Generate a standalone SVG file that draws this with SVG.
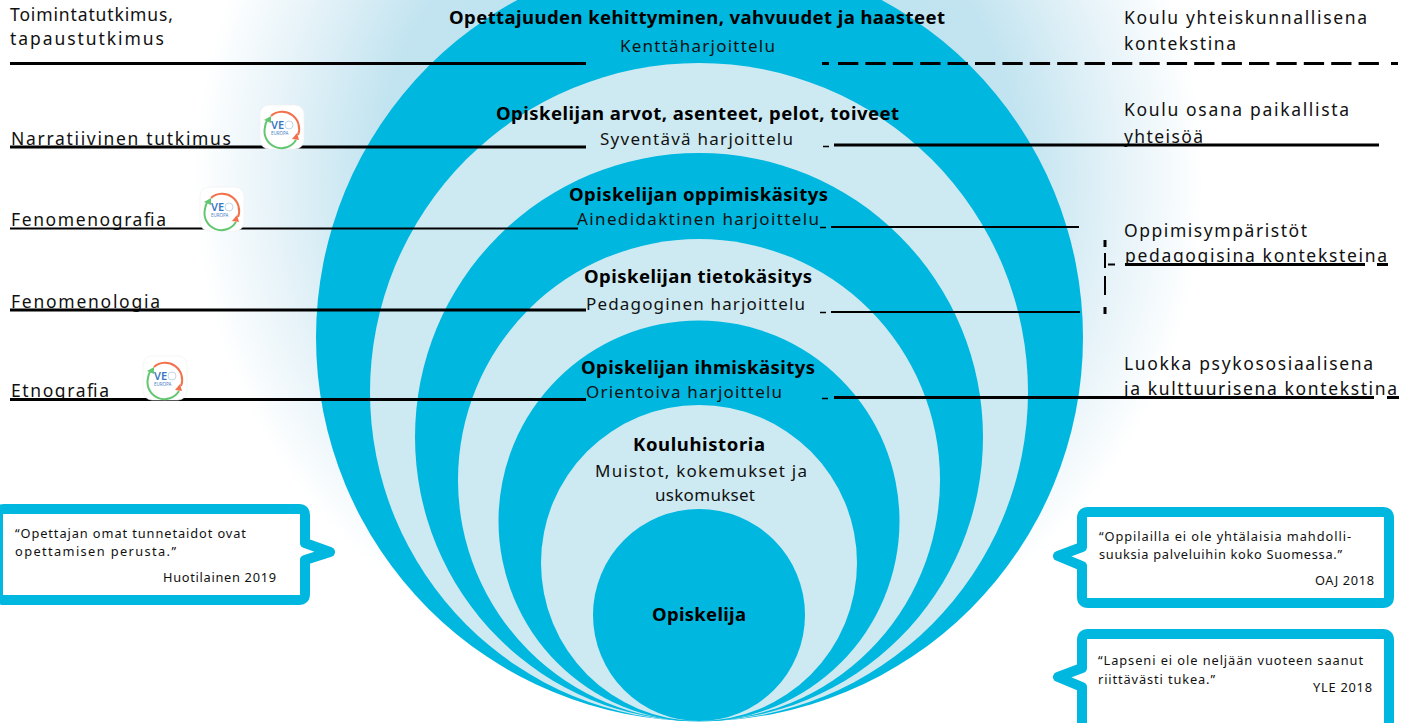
<svg xmlns="http://www.w3.org/2000/svg" width="1414" height="723" viewBox="0 0 1414 723">
<style>
text{font-family:"Noto Sans","Liberation Sans",sans-serif;fill:#111}
.b{font-weight:700;font-size:18.500px;fill:#000}
.m{font-size:17px}
.s{font-size:17.500px}
.q{font-size:12.800px}
.dk{fill:#00b7df}.lt{fill:#cdeaf2}
.call{fill:#fff;stroke:#00b7df;stroke-width:10;stroke-linejoin:round}
.l3{stroke:#000;stroke-width:3;fill:none}
.l2{stroke:#000;stroke-width:2;fill:none}
.l1{stroke:#000;stroke-width:1.500;fill:none}
</style>
<defs>
<radialGradient id="glow" gradientUnits="userSpaceOnUse" cx="699" cy="180" r="505">
<stop offset="0" stop-color="#b4e0ef"/><stop offset="0.64" stop-color="#c2e4f0"/><stop offset="0.8" stop-color="#e0f0f7"/><stop offset="1" stop-color="#fff"/>
</radialGradient>
<g id="veo">
<rect x="0" y="0" width="44" height="44" rx="9" fill="#fff" stroke="#f0f0f0" stroke-width="0.700"/>
<path d="M11 11A17 17 0 0 1 38 30" fill="none" stroke="#f2714b" stroke-width="2"/>
<path d="M36 35A17 17 0 0 1 5 22 17 17 0 0 1 8 14" fill="none" stroke="#62c770" stroke-width="2"/>
<path d="M4 15l7-4 0 7z" fill="#62c770"/><path d="M39 35l-7-1 5-6z" fill="#f2714b"/>
<text x="11" y="24" style="font-size:11px;fill:#3a78c2;font-weight:600">VE</text>
<circle cx="29" cy="20" r="4" fill="none" stroke="#c4d6ea" stroke-width="1"/>
<text x="11" y="30" style="font-size:4.500px;fill:#4a80c4">EUROPA</text>
</g>
</defs>
<rect id="halo" width="1414" height="723" fill="url(#glow)"/>
<g id="ring-1"><circle class="dk" cx="699.500" cy="337.500" r="383.500"/></g>
<g id="ring-2"><circle class="lt" cx="699" cy="392" r="329"/></g>
<g id="ring-3"><circle class="dk" cx="699" cy="437" r="284"/></g>
<g id="ring-4"><circle class="lt" cx="699" cy="480" r="241"/></g>
<g id="ring-5"><circle class="dk" cx="699" cy="521" r="200.500"/></g>
<g id="ring-6"><circle class="lt" cx="699" cy="563" r="158"/></g>
<g id="ring-7"><circle class="dk" cx="699" cy="615" r="106"/></g>

<g id="ring-labels">
<text class="b" x="449" y="24" textLength="496">Opettajuuden kehittyminen, vahvuudet ja haasteet</text>
<text class="m" x="620" y="52" textLength="155">Kenttäharjoittelu</text>
<text class="b" x="496" y="120" textLength="403">Opiskelijan arvot, asenteet, pelot, toiveet</text>
<text class="m" x="600" y="145" textLength="193">Syventävä harjoittelu</text>
<text class="b" x="569" y="201" textLength="259">Opiskelijan oppimiskäsitys</text>
<text class="m" x="577" y="225" textLength="242">Ainedidaktinen harjoittelu</text>
<text class="b" x="584" y="283" textLength="228">Opiskelijan tietokäsitys</text>
<text class="m" x="586" y="310" textLength="219">Pedagoginen harjoittelu</text>
<text class="b" x="581" y="374" textLength="234">Opiskelijan ihmiskäsitys</text>
<text class="m" x="586" y="398" textLength="196">Orientoiva harjoittelu</text>
<text class="b" x="633" y="451" textLength="132">Kouluhistoria</text>
<text class="m" x="595" y="477" textLength="212">Muistot, kokemukset ja</text>
<text class="m" x="655" y="501" textLength="100">uskomukset</text>
<text class="b" x="652" y="621" textLength="94">Opiskelija</text>
</g>

<g id="left-labels">
<text class="s" x="10" y="21" textLength="163">Toimintatutkimus,</text>
<text class="s" x="10" y="45" textLength="154">tapaustutkimus</text>
<text class="s" x="11" y="145" textLength="220">Narratiivinen tutkimus</text>
<text class="s" x="11" y="226" textLength="155">Fenomenografia</text>
<text class="s" x="11" y="308" textLength="149">Fenomenologia</text>
<text class="s" x="11" y="397" textLength="98">Etnografia</text>
</g>
<g id="right-labels">
<text class="s" x="1124" y="24" textLength="243">Koulu yhteiskunnallisena</text>
<text class="s" x="1124" y="50" textLength="112">kontekstina</text>
<text class="s" x="1124" y="116" textLength="225">Koulu osana paikallista</text>
<text class="s" x="1124" y="143" textLength="79">yhteisöä</text>
<text class="s" x="1124" y="237" textLength="183">Oppimisympäristöt</text>
<text class="s" x="1125" y="262" textLength="262">pedagogisina konteksteina</text>
<text class="s" x="1124" y="370" textLength="249">Luokka psykososiaalisena</text>
<text class="s" x="1124" y="395" textLength="273">ja kulttuurisena kontekstina</text>
</g>

<g id="connectors">
<path class="l3" d="M10 63.500H586M10 147H586M10 310H586M10 399.500H586"/>
<path class="l2" d="M10 228.500H578"/>
<path class="l3" d="M822 63.500H829M1391 63.500H1398"/>
<path class="l3" d="M838 63.500H1380" stroke-dasharray="20.300 7.100"/>
<path class="l3" d="M834 145H1379M834 397.500H1374M1387 397.500H1399"/>
<path class="l2" d="M831 227H1079M831 312H1080"/>
<path class="l1" d="M823 146.500H829M820 227.500H826M820 312.500H826M822 398.500H828"/>
<path class="l3" d="M1105 240V247M1105 307V314"/>
<path class="l2" d="M1105 253V268M1105 276V295"/>
<path class="l2" d="M1108 264.500H1115"/>
<path class="l3" d="M1125 264.500H1365M1377 264.500H1388"/>
</g>

<g id="veo-1"><use href="#veo" x="260" y="105"/></g>
<g id="veo-2"><use href="#veo" x="200" y="187"/></g>
<g id="veo-3"><use href="#veo" x="143" y="356"/></g>

<g id="callout-left">
<path class="call" d="M4 509H299Q305 509 305 515V543L330 552 305 560V594Q305 600 299 600H4Q-2 600-2 594V515Q-2 509 4 509Z"/>
<text class="q" x="15" y="538" textLength="231">“Opettajan omat tunnetaidot ovat</text>
<text class="q" x="15" y="556" textLength="161">opettamisen perusta.”</text>
<text class="q" x="163" y="582" textLength="113">Huotilainen 2019</text>
</g>
<g id="callout-right-1">
<path class="call" d="M1088 512H1383Q1389 512 1389 518V597Q1389 603 1383 603H1088Q1082 603 1082 597V566L1058 556 1082 547V518Q1082 512 1088 512Z"/>
<text class="q" x="1099" y="541" textLength="252">“Oppilailla ei ole yhtälaisia mahdolli-</text>
<text class="q" x="1099" y="559" textLength="243">suuksia palveluihin koko Suomessa.”</text>
<text class="q" x="1315" y="585" textLength="59">OAJ 2018</text>
</g>
<g id="callout-right-2">
<path class="call" d="M1088 634H1383Q1389 634 1389 640V734H1082V687L1058 677 1082 668V640Q1082 634 1088 634Z"/>
<text class="q" x="1098" y="665" textLength="265">“Lapseni ei ole neljään vuoteen saanut</text>
<text class="q" x="1098" y="684" textLength="117">riittävästi tukea.”</text>
<text class="q" x="1313" y="692" textLength="59">YLE 2018</text>
</g>
</svg>
